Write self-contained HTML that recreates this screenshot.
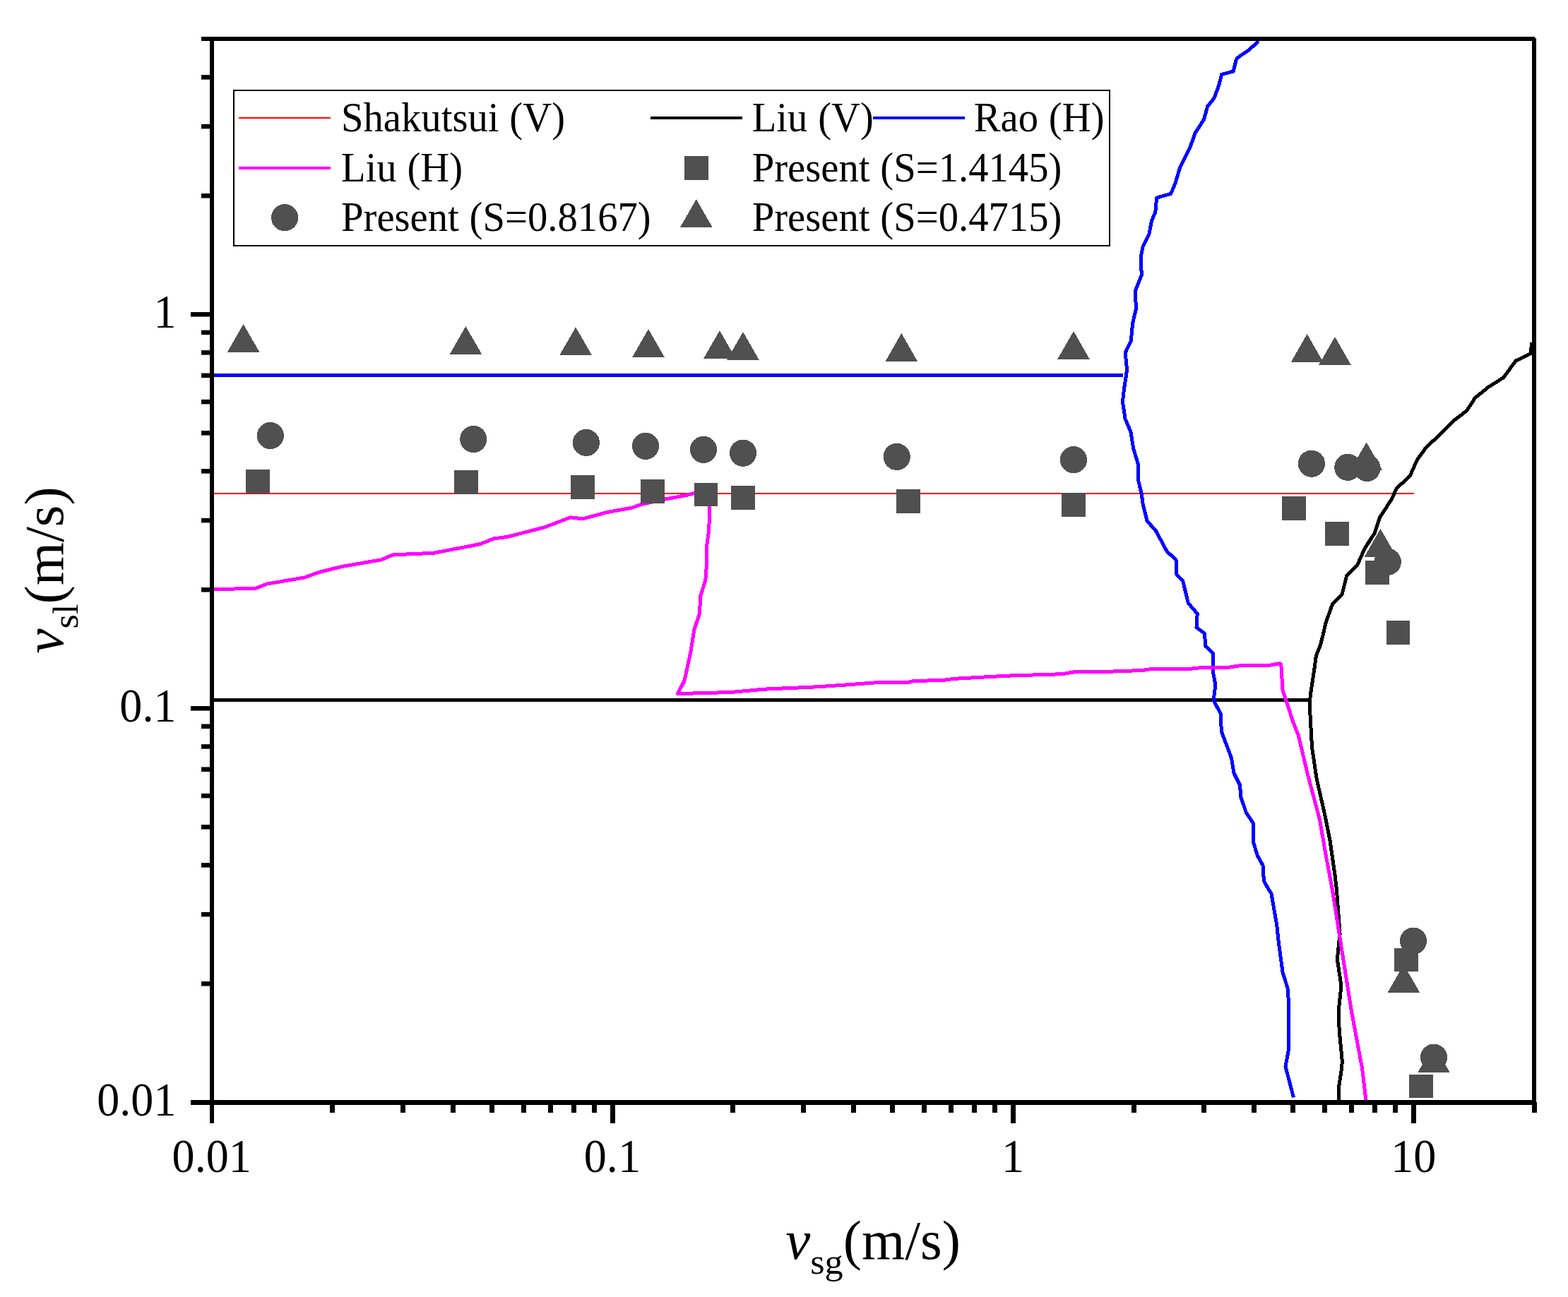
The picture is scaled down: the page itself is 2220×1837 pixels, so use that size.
<!DOCTYPE html>
<html lang="en"><head><meta charset="utf-8"><title>Flow pattern map</title>
<style>html,body{margin:0;padding:0;background:#fff}body{width:2220px;height:1837px;overflow:hidden}svg{display:block}text{font-family:"Liberation Serif", serif;fill:#000}</style>
</head><body>
<svg width="2220" height="1837" viewBox="0 0 2220 1837" role="img" aria-label="Flow pattern map">
<rect x="0" y="0" width="2220" height="1837" fill="#ffffff"/>
<g id="curves" shape-rendering="crispEdges">
<polyline points="303.0,699.0 2002.0,699.0" fill="none" stroke="#ff0000" stroke-width="2.2" stroke-linejoin="round" />
<polyline points="303.0,991.6 1856.0,991.6" fill="none" stroke="#000000" stroke-width="5.0" stroke-linejoin="round" />
<polyline points="2169.0,485.2 2166.8,501.0 2145.9,511.1 2128.7,534.8 2107.1,548.4 2088.4,563.6 2076.9,581.5 2058.2,595.9 2036.6,617.5 2019.4,633.3 2006.4,651.3 1996.2,674.3 1977.4,691.5 1970.5,706.7 1953.3,733.3 1945.7,756.2 1932.4,776.2 1921.9,800.0 1906.7,815.2 1900.0,841.9 1886.7,855.2 1877.1,881.9 1873.0,900.0 1869.2,914.4 1863.4,928.8 1861.5,943.2 1858.6,962.5 1855.7,981.7 1854.6,991.3 1854.6,1005.7 1855.7,1024.9 1856.7,1044.2 1857.8,1060.3 1864.2,1103.5 1875.7,1153.8 1882.9,1189.8 1890.1,1240.1 1892.4,1260.0 1897.1,1322.9 1895.2,1340.0 1893.3,1359.0 1899.0,1396.2 1895.2,1431.4 1896.2,1460.0 1900.4,1503.8 1899.0,1517.1 1895.2,1541.9 1895.8,1558.0" fill="none" stroke="#000000" stroke-width="5.0" stroke-linejoin="round" />
<polyline points="303.0,531.4 1590.0,531.4" fill="none" stroke="#0000ff" stroke-width="5.0" stroke-linejoin="round" />
<polyline points="1782.2,58.3 1767.1,71.6 1751.3,82.4 1749.8,86.0 1746.2,101.1 1729.7,105.4 1725.4,121.9 1718.9,139.2 1709.6,150.7 1704.5,169.4 1692.3,188.1 1685.1,208.2 1670.7,237.0 1664.3,258.5 1657.8,274.4 1637.7,280.1 1636.2,294.5 1635.9,300.1 1630.5,313.0 1626.9,331.7 1618.2,349.0 1615.4,363.3 1615.4,376.3 1616.5,389.2 1607.5,411.5 1607.5,420.9 1608.6,436.7 1603.9,456.8 1602.4,469.8 1601.4,482.7 1593.4,499.3 1594.5,514.4 1595.7,523.0 1593.4,538.8 1592.4,544.4 1590.5,558.8 1589.5,569.6 1593.1,593.3 1601.0,612.0 1604.6,635.0 1611.1,656.6 1611.1,678.1 1616.1,699.0 1618.2,714.1 1624.0,737.8 1636.2,751.5 1646.3,770.0 1652.0,780.8 1665.0,793.0 1665.0,812.4 1674.8,823.2 1682.3,854.1 1695.2,869.2 1694.0,888.7 1705.5,897.3 1706.7,915.3 1717.1,924.6 1717.1,949.8 1720.8,969.9 1718.2,992.2 1728.3,1010.9 1729.3,1035.9 1743.4,1073.3 1747.0,1094.9 1755.6,1112.1 1756.6,1127.9 1764.3,1150.9 1774.3,1166.0 1774.3,1191.9 1780.1,1211.4 1788.0,1225.7 1789.4,1247.3 1796.2,1260.0 1800.0,1265.7 1807.6,1309.5 1810.5,1336.2 1816.2,1378.1 1822.9,1399.0 1824.4,1418.1 1824.4,1486.7 1823.4,1492.4 1820.0,1510.5 1831.4,1554.3" fill="none" stroke="#0000ff" stroke-width="5.0" stroke-linejoin="round" />
<polyline points="303.0,834.8 362.4,833.2 377.6,827.1 431.0,818.0 451.9,810.4 484.3,802.4 539.5,792.9 556.7,785.8 613.8,783.3 663.3,773.8 680.0,770.5 699.0,762.9 718.1,760.4 771.4,746.7 807.6,732.8 824.8,734.9 859.0,725.7 895.2,719.0 908.6,714.3 942.9,706.7 969.5,701.9 982.9,698.7 1005.0,697.5 1005.0,717.3 1003.6,751.8 1000.5,774.2 1000.5,800.1 998.7,822.6 991.5,845.0 990.6,869.2 982.9,891.6 977.7,924.4 969.0,964.1 959.6,982.6 1034.6,980.5 1081.3,976.2 1158.9,972.7 1199.0,969.9 1246.7,966.3 1286.7,966.3 1294.3,964.2 1332.4,963.8 1351.4,961.3 1427.6,957.1 1503.8,954.7 1522.9,951.4 1564.8,951.4 1617.5,949.5 1631.9,947.2 1686.6,947.2 1703.8,945.2 1739.8,945.2 1754.2,943.0 1795.9,942.6 1811.7,939.7 1813.8,941.1 1816.0,977.1 1823.2,998.7 1829.8,1020.1 1838.3,1041.6 1851.3,1096.3 1868.5,1161.0 1877.2,1211.4 1886.3,1260.0 1896.2,1322.9 1913.3,1431.4 1928.6,1513.3 1933.9,1558.0" fill="none" stroke="#ff00ff" stroke-width="5.0" stroke-linejoin="round" />
</g>
<g id="markers" fill="#505050" shape-rendering="crispEdges">
<rect x="348.1" y="665.1" width="33.8" height="33.8"/>
<rect x="643.2" y="666.1" width="33.8" height="33.8"/>
<rect x="807.7" y="673.1" width="33.8" height="33.8"/>
<rect x="907.1" y="679.0" width="33.8" height="33.8"/>
<rect x="982.5" y="683.5" width="33.8" height="33.8"/>
<rect x="1035.1" y="688.1" width="33.8" height="33.8"/>
<rect x="1268.7" y="693.0" width="33.8" height="33.8"/>
<rect x="1503.2" y="698.2" width="33.8" height="33.8"/>
<rect x="1815.1" y="703.1" width="33.8" height="33.8"/>
<rect x="1876.1" y="739.1" width="33.8" height="33.8"/>
<rect x="1933.1" y="794.2" width="33.8" height="33.8"/>
<rect x="1962.6" y="879.1" width="33.8" height="33.8"/>
<rect x="1974.1" y="1342.5" width="33.8" height="33.8"/>
<rect x="1995.1" y="1521.6" width="33.8" height="33.8"/>
<circle cx="382.9" cy="617.0" r="19.1"/>
<circle cx="670.3" cy="622.0" r="19.1"/>
<circle cx="830.0" cy="627.0" r="19.1"/>
<circle cx="914.0" cy="631.9" r="19.1"/>
<circle cx="996.0" cy="636.9" r="19.1"/>
<circle cx="1052.0" cy="641.7" r="19.1"/>
<circle cx="1269.7" cy="646.9" r="19.1"/>
<circle cx="1520.0" cy="651.1" r="19.1"/>
<circle cx="1856.9" cy="656.7" r="19.1"/>
<circle cx="1908.3" cy="661.8" r="19.1"/>
<circle cx="1935.5" cy="662.9" r="19.1"/>
<circle cx="1964.8" cy="795.7" r="19.1"/>
<circle cx="2001.0" cy="1332.7" r="19.1"/>
<circle cx="2030.0" cy="1497.7" r="19.1"/>
<polygon points="344.6,459.0 367.3,498.6 321.9,498.6"/>
<polygon points="659.4,462.1 682.1,501.7 636.7,501.7"/>
<polygon points="815.1,463.3 837.8,502.9 792.4,502.9"/>
<polygon points="918.0,466.1 940.7,505.7 895.3,505.7"/>
<polygon points="1018.9,468.1 1041.6,507.7 996.2,507.7"/>
<polygon points="1052.0,470.1 1074.7,509.7 1029.3,509.7"/>
<polygon points="1276.3,472.1 1299.0,511.7 1253.6,511.7"/>
<polygon points="1520.0,469.0 1542.7,508.6 1497.3,508.6"/>
<polygon points="1850.6,473.0 1873.3,512.6 1827.9,512.6"/>
<polygon points="1890.0,477.0 1912.7,516.6 1867.3,516.6"/>
<polygon points="1934.6,626.4 1957.3,666.0 1911.9,666.0"/>
<polygon points="1954.5,749.0 1977.2,788.6 1931.8,788.6"/>
<polygon points="1987.4,1366.1 2010.1,1405.7 1964.7,1405.7"/>
<polygon points="2030.0,1479.4 2052.7,1519.0 2007.3,1519.0"/>
</g>
<g id="axes" stroke="#000" stroke-width="6.0" fill="none" stroke-linecap="butt" shape-rendering="crispEdges">
<line x1="285.0" y1="55.0" x2="2173.0" y2="55.0"/>
<line x1="270.0" y1="1561.5" x2="2175.0" y2="1561.5" stroke-width="7"/>
<line x1="300.0" y1="52.0" x2="300.0" y2="1591.0"/>
<line x1="2172.0" y1="54.0" x2="2172.0" y2="1576.0"/>
<line x1="470.7" y1="1561.0" x2="470.7" y2="1576.0" stroke-width="7"/>
<line x1="570.6" y1="1561.0" x2="570.6" y2="1576.0" stroke-width="7"/>
<line x1="641.5" y1="1561.0" x2="641.5" y2="1576.0" stroke-width="7"/>
<line x1="696.4" y1="1561.0" x2="696.4" y2="1576.0" stroke-width="7"/>
<line x1="741.3" y1="1561.0" x2="741.3" y2="1576.0" stroke-width="7"/>
<line x1="779.3" y1="1561.0" x2="779.3" y2="1576.0" stroke-width="7"/>
<line x1="812.2" y1="1561.0" x2="812.2" y2="1576.0" stroke-width="7"/>
<line x1="841.2" y1="1561.0" x2="841.2" y2="1576.0" stroke-width="7"/>
<line x1="867.2" y1="1561.0" x2="867.2" y2="1591.0" stroke-width="7"/>
<line x1="1037.9" y1="1561.0" x2="1037.9" y2="1576.0" stroke-width="7"/>
<line x1="1137.8" y1="1561.0" x2="1137.8" y2="1576.0" stroke-width="7"/>
<line x1="1208.6" y1="1561.0" x2="1208.6" y2="1576.0" stroke-width="7"/>
<line x1="1263.6" y1="1561.0" x2="1263.6" y2="1576.0" stroke-width="7"/>
<line x1="1308.5" y1="1561.0" x2="1308.5" y2="1576.0" stroke-width="7"/>
<line x1="1346.5" y1="1561.0" x2="1346.5" y2="1576.0" stroke-width="7"/>
<line x1="1379.4" y1="1561.0" x2="1379.4" y2="1576.0" stroke-width="7"/>
<line x1="1408.4" y1="1561.0" x2="1408.4" y2="1576.0" stroke-width="7"/>
<line x1="1434.3" y1="1561.0" x2="1434.3" y2="1591.0" stroke-width="7"/>
<line x1="1605.1" y1="1561.0" x2="1605.1" y2="1576.0" stroke-width="7"/>
<line x1="1704.9" y1="1561.0" x2="1704.9" y2="1576.0" stroke-width="7"/>
<line x1="1775.8" y1="1561.0" x2="1775.8" y2="1576.0" stroke-width="7"/>
<line x1="1830.8" y1="1561.0" x2="1830.8" y2="1576.0" stroke-width="7"/>
<line x1="1875.7" y1="1561.0" x2="1875.7" y2="1576.0" stroke-width="7"/>
<line x1="1913.6" y1="1561.0" x2="1913.6" y2="1576.0" stroke-width="7"/>
<line x1="1946.5" y1="1561.0" x2="1946.5" y2="1576.0" stroke-width="7"/>
<line x1="1975.5" y1="1561.0" x2="1975.5" y2="1576.0" stroke-width="7"/>
<line x1="2001.5" y1="1561.0" x2="2001.5" y2="1591.0" stroke-width="7"/>
<line x1="2172.2" y1="1561.0" x2="2172.2" y2="1576.0" stroke-width="7"/>
<line x1="285.0" y1="1393.3" x2="298.0" y2="1393.3" stroke-width="6.5" shape-rendering="geometricPrecision"/>
<line x1="285.0" y1="1295.1" x2="298.0" y2="1295.1" stroke-width="6.5" shape-rendering="geometricPrecision"/>
<line x1="285.0" y1="1225.4" x2="298.0" y2="1225.4" stroke-width="6.5" shape-rendering="geometricPrecision"/>
<line x1="285.0" y1="1171.3" x2="298.0" y2="1171.3" stroke-width="6.5" shape-rendering="geometricPrecision"/>
<line x1="285.0" y1="1127.1" x2="298.0" y2="1127.1" stroke-width="6.5" shape-rendering="geometricPrecision"/>
<line x1="285.0" y1="1089.7" x2="298.0" y2="1089.7" stroke-width="6.5" shape-rendering="geometricPrecision"/>
<line x1="285.0" y1="1057.4" x2="298.0" y2="1057.4" stroke-width="6.5" shape-rendering="geometricPrecision"/>
<line x1="285.0" y1="1028.8" x2="298.0" y2="1028.8" stroke-width="6.5" shape-rendering="geometricPrecision"/>
<line x1="270.0" y1="1003.3" x2="298.0" y2="1003.3" stroke-width="6.5" shape-rendering="geometricPrecision"/>
<line x1="285.0" y1="835.3" x2="298.0" y2="835.3" stroke-width="6.5" shape-rendering="geometricPrecision"/>
<line x1="285.0" y1="737.1" x2="298.0" y2="737.1" stroke-width="6.5" shape-rendering="geometricPrecision"/>
<line x1="285.0" y1="667.4" x2="298.0" y2="667.4" stroke-width="6.5" shape-rendering="geometricPrecision"/>
<line x1="285.0" y1="613.3" x2="298.0" y2="613.3" stroke-width="6.5" shape-rendering="geometricPrecision"/>
<line x1="285.0" y1="569.1" x2="298.0" y2="569.1" stroke-width="6.5" shape-rendering="geometricPrecision"/>
<line x1="285.0" y1="531.8" x2="298.0" y2="531.8" stroke-width="6.5" shape-rendering="geometricPrecision"/>
<line x1="285.0" y1="499.4" x2="298.0" y2="499.4" stroke-width="6.5" shape-rendering="geometricPrecision"/>
<line x1="285.0" y1="470.9" x2="298.0" y2="470.9" stroke-width="6.5" shape-rendering="geometricPrecision"/>
<line x1="270.0" y1="445.3" x2="298.0" y2="445.3" stroke-width="6.5" shape-rendering="geometricPrecision"/>
<line x1="285.0" y1="277.3" x2="298.0" y2="277.3" stroke-width="6.5" shape-rendering="geometricPrecision"/>
<line x1="285.0" y1="179.1" x2="298.0" y2="179.1" stroke-width="6.5" shape-rendering="geometricPrecision"/>
<line x1="285.0" y1="109.4" x2="298.0" y2="109.4" stroke-width="6.5" shape-rendering="geometricPrecision"/>
</g>
<g id="ticklabels">
<text transform="translate(299.70,1660.40) scale(0.9600,1)" font-size="66.80" text-anchor="middle" >0.01</text>
<text transform="translate(866.87,1660.40) scale(0.9600,1)" font-size="66.80" text-anchor="middle" >0.1</text>
<text transform="translate(1434.03,1660.40) scale(0.9600,1)" font-size="66.80" text-anchor="middle" >1</text>
<text transform="translate(2001.20,1660.40) scale(0.9600,1)" font-size="66.80" text-anchor="middle" >10</text>
<text transform="translate(249.50,1579.50) scale(0.9600,1)" font-size="66.80" text-anchor="end" >0.01</text>
<text transform="translate(249.50,1021.51) scale(0.9600,1)" font-size="66.80" text-anchor="end" >0.1</text>
<text transform="translate(249.50,463.52) scale(0.9600,1)" font-size="66.80" text-anchor="end" >1</text>
</g>
<g id="titles">
<text transform="translate(1112.30,1782.90) scale(1.0150,1)" font-size="77.60" text-anchor="start"><tspan font-style="italic">v</tspan><tspan font-size="51.50" dy="21.00">sg</tspan><tspan dy="-21.00">(m/s)</tspan></text>
<text transform="translate(89.10,925.40) rotate(-90) scale(1.0150,1)" font-size="77.60" text-anchor="start"><tspan font-style="italic">v</tspan><tspan font-size="51.50" dy="21.00">sl</tspan><tspan dy="-21.00">(m/s)</tspan></text>
</g>
<g id="legend" shape-rendering="crispEdges">
<rect x="331.0" y="128.1" width="1240.0" height="219.6" fill="#fff" stroke="#000" stroke-width="2.0"/>
<line x1="338.0" y1="167.0" x2="468.0" y2="167.0" stroke="#ff0000" stroke-width="2.1"/>
<line x1="921.0" y1="167.0" x2="1051.0" y2="167.0" stroke="#000000" stroke-width="4.1"/>
<line x1="1236.0" y1="167.0" x2="1366.0" y2="167.0" stroke="#0000ff" stroke-width="4.1"/>
<line x1="338.0" y1="238.0" x2="468.0" y2="238.0" stroke="#ff00ff" stroke-width="4.1"/>
<g fill="#505050">
<rect x="969.4" y="221.3" width="33.8" height="33.8"/>
<circle cx="403.1" cy="308.2" r="19.1"/>
<polygon points="985.8,282.1 1008.5,321.7 963.1,321.7"/>
</g>
<text transform="translate(483.00,186.20) scale(0.9720,1)" font-size="58.33" text-anchor="start" word-spacing="0.6">Shakutsui (V)</text>
<text transform="translate(1064.70,186.20) scale(0.9720,1)" font-size="58.33" text-anchor="start" word-spacing="0.6">Liu (V)</text>
<text transform="translate(1378.80,186.20) scale(0.9720,1)" font-size="58.33" text-anchor="start" word-spacing="0.6">Rao (H)</text>
<text transform="translate(483.00,256.70) scale(0.9720,1)" font-size="58.33" text-anchor="start" word-spacing="0.6">Liu (H)</text>
<text transform="translate(1064.70,256.70) scale(0.9720,1)" font-size="58.33" text-anchor="start" word-spacing="0.6">Present (S=1.4145)</text>
<text transform="translate(483.00,327.30) scale(0.9720,1)" font-size="58.33" text-anchor="start" word-spacing="0.6">Present (S=0.8167)</text>
<text transform="translate(1064.70,327.30) scale(0.9720,1)" font-size="58.33" text-anchor="start" word-spacing="0.6">Present (S=0.4715)</text>
</g>
</svg>
</body></html>
